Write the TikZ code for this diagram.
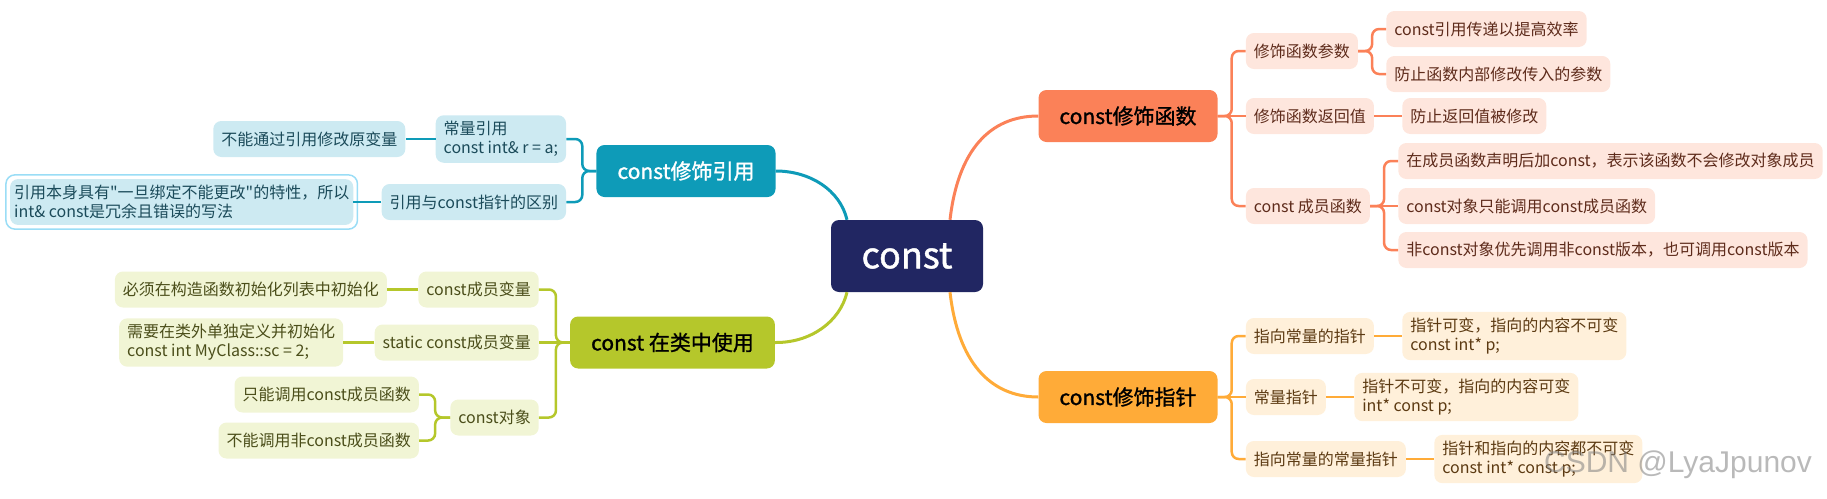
\documentclass[tikz,border=0pt]{standalone}
\usepackage{fontspec}
\setmainfont{Noto Sans CJK SC}
\newfontfamily\plainfont{Noto Sans CJK SC}
\newfontfamily\topicfont{Noto Sans CJK SC}[FakeBold=1.2]
\newfontfamily\markfont{Liberation Sans}
\usetikzlibrary{positioning}
\definecolor{rootnavy}{HTML}{212662}
\definecolor{fnorange}{HTML}{FB8158}
\definecolor{fnlight}{HTML}{FEE6DD}
\definecolor{fntext}{HTML}{5E2B1B}
\definecolor{ptryellow}{HTML}{FFAB38}
\definecolor{ptrlight}{HTML}{FFF0DA}
\definecolor{ptrtext}{HTML}{5C3A12}
\definecolor{refteal}{HTML}{0E9BB8}
\definecolor{reflight}{HTML}{CDEAF2}
\definecolor{reftext}{HTML}{1B4B5A}
\definecolor{refsel}{HTML}{9ADDF6}
\definecolor{clsgreen}{HTML}{B5C72B}
\definecolor{clslight}{HTML}{F1F5D5}
\definecolor{clstext}{HTML}{4B4E1A}
\newcommand{\dq}{{\plainfont"}}

\begin{document}
\begin{tikzpicture}[x=1pt, y=-1pt,
    rootbox/.style={fill=rootnavy, text=white, rounded corners=8pt,
      minimum width=152pt, minimum height=72pt,
      font=\topicfont\fontsize{36}{40}\selectfont},
    topic/.style={rounded corners=8pt, minimum width=176pt,
      minimum height=52pt, inner xsep=21pt,
      font=\topicfont\fontsize{21}{25}\selectfont},
    leaf/.style={rounded corners=8pt, minimum height=36pt, inner xsep=8pt,
      inner ysep=6pt, align=left, font=\fontsize{16}{19}\selectfont},
    stem/.style={line width=3pt},
    branch/.style={line width=2.5pt, rounded corners=7pt}
  ]
  \useasboundingbox (0,0) rectangle (1827,498);

  % root and main topics
  \node[rootbox] (root) at (907,256) {const};
  \node[topic, fill=fnorange] (fn) at (1128,116) {const修饰函数};
  \node[topic, fill=ptryellow] (ptr) at (1128,397) {const修饰指针};
  \node[topic, fill=refteal, text=white] (ref) at (686,171) {const修饰引用};
  \node[topic, fill=clsgreen] (cls) at (672.5,342.5) {const 在类中使用};

  \draw[stem, fnorange] ([xshift=43pt]root.north)
    .. controls (958,150) and (990,116) .. (fn.west);
  \draw[stem, ptryellow] ([xshift=43pt]root.south)
    .. controls (958,362) and (990,397) .. (ptr.west);
  \draw[stem, refteal] ([xshift=-60pt]root.north)
    .. controls (840,190) and (810,171) .. (ref.east);
  \draw[stem, clsgreen] ([xshift=-60pt]root.south)
    .. controls (840,322) and (810,343) .. (cls.east);

  % const修饰函数
  \begin{scope}[every node/.style={leaf, fill=fnlight, text=fntext}]
    \node[right=28pt of fn, yshift=65pt] (fparam) {修饰函数参数};
    \node[right=28pt of fparam, yshift=22pt] (fparam1) {const引用传递以提高效率};
    \node[right=28pt of fparam, yshift=-23pt] (fparam2) {防止函数内部修改传入的参数};
    \node[right=28pt of fn] (fret) {修饰函数返回值};
    \node[right=28pt of fret] (fret1) {防止返回值被修改};
    \node[right=28pt of fn, yshift=-90pt] (fmem) {const 成员函数};
    \node[right=28pt of fmem, yshift=45pt] (fmem1) {在成员函数声明后加const，表示该函数不会修改对象成员};
    \node[right=28pt of fmem] (fmem2) {const对象只能调用const成员函数};
    \node[right=28pt of fmem, yshift=-44pt] (fmem3) {非const对象优先调用非const版本，也可调用const版本};
  \end{scope}
  \begin{scope}[branch, fnorange]
    \draw (fn.east) -- (fret.west);
    \foreach \kid in {fparam, fmem}
      \draw (fn.east) -- ++(14,0) |- (\kid.west);
    \foreach \kid in {fparam1, fparam2}
      \draw (fparam.east) -- ++(14,0) |- (\kid.west);
    \draw (fret.east) -- (fret1.west);
    \draw (fmem.east) -- (fmem2.west);
    \foreach \kid in {fmem1, fmem3}
      \draw (fmem.east) -- ++(14,0) |- (\kid.west);
  \end{scope}

  % const修饰指针
  \begin{scope}[every node/.style={leaf, fill=ptrlight, text=ptrtext}]
    \node[right=28pt of ptr, yshift=61pt] (pc) {指向常量的指针};
    \node[right=28pt of pc] (pc1) {指针可变，指向的内容不可变\\const int* p;};
    \node[right=28pt of ptr] (cp) {常量指针};
    \node[right=28pt of cp] (cp1) {指针不可变，指向的内容可变\\int* const p;};
    \node[right=28pt of ptr, yshift=-62pt] (cpc) {指向常量的常量指针};
    \node[right=28pt of cpc] (cpc1) {指针和指向的内容都不可变\\const int* const p;};
  \end{scope}
  \begin{scope}[branch, ptryellow]
    \draw (ptr.east) -- (cp.west);
    \foreach \kid in {pc, cpc}
      \draw (ptr.east) -- ++(14,0) |- (\kid.west);
    \draw (pc.east) -- (pc1.west);
    \draw (cp.east) -- (cp1.west);
    \draw (cpc.east) -- (cpc1.west);
  \end{scope}

  % const修饰引用
  \begin{scope}[every node/.style={leaf, fill=reflight, text=reftext}]
    \node[left=30pt of ref, yshift=32pt] (cr) {常量引用\\const int\& r = a;};
    \node[left=30pt of cr] (cr1) {不能通过引用修改原变量};
    \node[left=30pt of ref, yshift=-31pt] (rd) {引用与const指针的区别};
    \node[left=28pt of rd, inner xsep=4pt] (rd1) {引用本身具有\dq 一旦绑定不能更改\dq 的特性，所以\\int\& const是冗余且错误的写法};
  \end{scope}
  \draw[refsel, line width=1.5pt, rounded corners=9pt]
    ([shift={(-4,-4)}]rd1.north west) rectangle ([shift={(4,4)}]rd1.south east);
  \begin{scope}[branch, refteal]
    \foreach \kid in {cr, rd}
      \draw (ref.west) -- ++(-14,0) |- (\kid.east);
    \draw (cr.west) -- (cr1.east);
    \draw (rd.west) -- (rd1.east);
  \end{scope}

  % const 在类中使用
  \begin{scope}[every node/.style={leaf, fill=clslight, text=clstext}]
    \node[left=31pt of cls, yshift=53pt] (cm) {const成员变量};
    \node[left=31pt of cm] (cm1) {必须在构造函数初始化列表中初始化};
    \node[left=31pt of cls] (sm) {static const成员变量};
    \node[left=31pt of sm] (sm1) {需要在类外单独定义并初始化\\const int MyClass::sc = 2;};
    \node[left=31pt of cls, yshift=-75pt] (co) {const对象};
    \node[left=31pt of co, yshift=23pt] (co1) {只能调用const成员函数};
    \node[left=31pt of co, yshift=-23pt] (co2) {不能调用非const成员函数};
  \end{scope}
  \begin{scope}[branch, clsgreen]
    \draw (cls.west) -- (sm.east);
    \foreach \kid in {cm, co}
      \draw (cls.west) -- ++(-14,0) |- (\kid.east);
    \draw (cm.west) -- (cm1.east);
    \draw (sm.west) -- (sm1.east);
    \foreach \kid in {co1, co2}
      \draw (co.west) -- ++(-15,0) |- (\kid.east);
  \end{scope}

  \node[font=\markfont\fontsize{30}{30}\selectfont, text=gray, opacity=0.55]
    (mark) at (1678,465) {CSDN @LyaJpunov};
\end{tikzpicture}
\end{document}
